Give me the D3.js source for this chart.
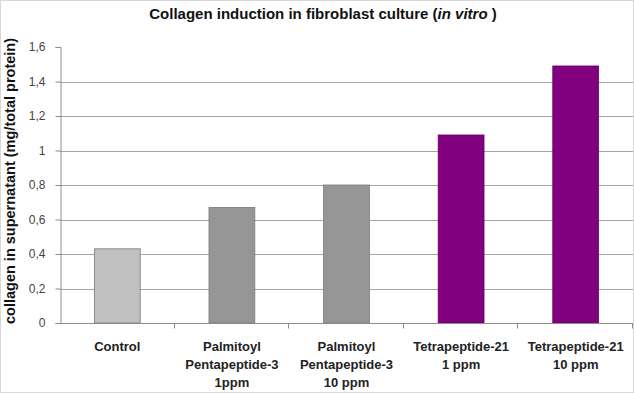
<!DOCTYPE html>
<html>
<head>
<meta charset="utf-8">
<script src="https://cdn.jsdelivr.net/npm/d3@7"></script>
<style>
  body { margin: 0; background: #fff; }
  svg { display: block; font-family: Arial, "Liberation Sans", sans-serif; }
</style>
</head>
<body>
<script>

	// chart data
	var categories = [
	  ["Control"],
	  ["Palmitoyl", "Pentapeptide-3", "1ppm"],
	  ["Palmitoyl", "Pentapeptide-3", "10 ppm"],
	  ["Tetrapeptide-21", "1 ppm"],
	  ["Tetrapeptide-21", "10 ppm"]
	];
	var values = [0.43, 0.67, 0.80, 1.09, 1.49];
	var barColors = ["#c0c0c0", "#969696", "#969696", "#800080", "#800080"];
	var yTicks = [0, 0.2, 0.4, 0.6, 0.8, 1, 1.2, 1.4, 1.6];

	var width = 634,
	    height = 393;
	var margin = {top: 47, right: 1, bottom: 70, left: 60};

	var svg = d3.select("body")
	    .append("svg")
	    .attr("width", width)
	    .attr("height", height);

	// light frame around the chart area
	svg.append("rect")
	    .attr("x", 0.5).attr("y", 0.5)
	    .attr("width", width - 1).attr("height", height - 1)
	    .attr("fill", "#fff")
	    .attr("stroke", "#d8d8d8");

	var x = d3.scaleBand()
	    .domain(d3.range(categories.length))
	    .range([margin.left, width - margin.right])
	    .paddingInner(0.6)
	    .paddingOuter(0.3);

	var y = d3.scaleLinear()
	    .domain([0, 1.6])
	    .range([height - margin.bottom, margin.top]);

	var fmt = function(d){ return String(+d.toFixed(1)).replace(".", ","); };

	// gridlines (none at the top value)
	svg.append("g")
	    .selectAll("line")
	    .data(yTicks.filter(function(d){ return d > 0 && d < 1.6; }))
	    .enter()
	    .append("line")
	    .attr("x1", margin.left)
	    .attr("x2", width - margin.right)
	    .attr("y1", function(d){ return Math.round(y(d)) + 0.5; })
	    .attr("y2", function(d){ return Math.round(y(d)) + 0.5; })
	    .attr("stroke", "#a6a6a6")
	    .attr("stroke-width", 1.2);

	// bars
	svg.append("g")
	    .selectAll("rect")
	    .data(values)
	    .enter()
	    .append("rect")
	    .attr("x", function(d, i){ return x(i); })
	    .attr("width", x.bandwidth())
	    .attr("y", function(d){ return y(d); })
	    .attr("height", function(d){ return y(0) - y(d); })
	    .attr("fill", function(d, i){ return barColors[i]; })
	    .attr("stroke", function(d, i){ return i < 3 ? "#7a7a7a" : "#6a006a"; })
	    .attr("stroke-width", 0.8);

	// y axis
	var yAxis = svg.append("g")
	    .attr("transform", "translate(" + (margin.left + 0.5) + ",0)")
	    .call(d3.axisLeft(y).tickValues(yTicks).tickFormat(fmt).tickSize(5).tickPadding(10));
	yAxis.select(".domain").attr("stroke", "#8c8c8c");
	yAxis.selectAll(".tick line").attr("stroke", "#8c8c8c");
	yAxis.selectAll("text")
	    .attr("fill", "#444")
	    .style("font-size", "12px");

	// x axis with ticks at category boundaries
	var xg = svg.append("g")
	    .attr("transform", "translate(0," + (Math.round(y(0)) + 0.5) + ")");
	xg.append("line")
	    .attr("x1", margin.left).attr("x2", width - margin.right)
	    .attr("stroke", "#8c8c8c");
	xg.selectAll(".bnd")
	    .data(d3.range(1, categories.length + 1))
	    .enter()
	    .append("line")
	    .attr("class", "bnd")
	    .attr("x1", function(i){ return Math.round(margin.left + i * x.step()) - 0.5; })
	    .attr("x2", function(i){ return Math.round(margin.left + i * x.step()) - 0.5; })
	    .attr("y1", 0).attr("y2", 5)
	    .attr("stroke", "#8c8c8c");

	var labels = xg.selectAll(".lbl")
	    .data(categories)
	    .enter()
	    .append("text")
	    .attr("class", "lbl")
	    .attr("text-anchor", "middle")
	    .attr("font-weight", "bold")
	    .attr("font-size", "13px")
	    .attr("fill", "#222")
	    .attr("transform", function(d, i){ return "translate(" + (x(i) + x.bandwidth() / 2) + ",0)"; });
	labels.selectAll("tspan")
	    .data(function(d){ return d; })
	    .enter()
	    .append("tspan")
	    .attr("x", 0)
	    .attr("y", function(d, j){ return 27 + j * 18; })
	    .text(function(d){ return d; });

	// title
	var title = svg.append("text")
	    .attr("x", 323)
	    .attr("y", 19)
	    .attr("text-anchor", "middle")
	    .attr("font-weight", "bold")
	    .attr("font-size", "15px")
	    .attr("fill", "#111");
	title.append("tspan").text("Collagen induction in fibroblast culture (");
	title.append("tspan").attr("font-style", "italic").text("in vitro");
	title.append("tspan").text(" )");

	// y axis title
	svg.append("text")
	    .attr("transform", "translate(15,181) rotate(-90)")
	    .attr("text-anchor", "middle")
	    .attr("font-weight", "bold")
	    .attr("font-size", "14.5px")
	    .attr("fill", "#111")
	    .text("collagen in supernatant (mg/total protein)");

</script>
</body>
</html>
